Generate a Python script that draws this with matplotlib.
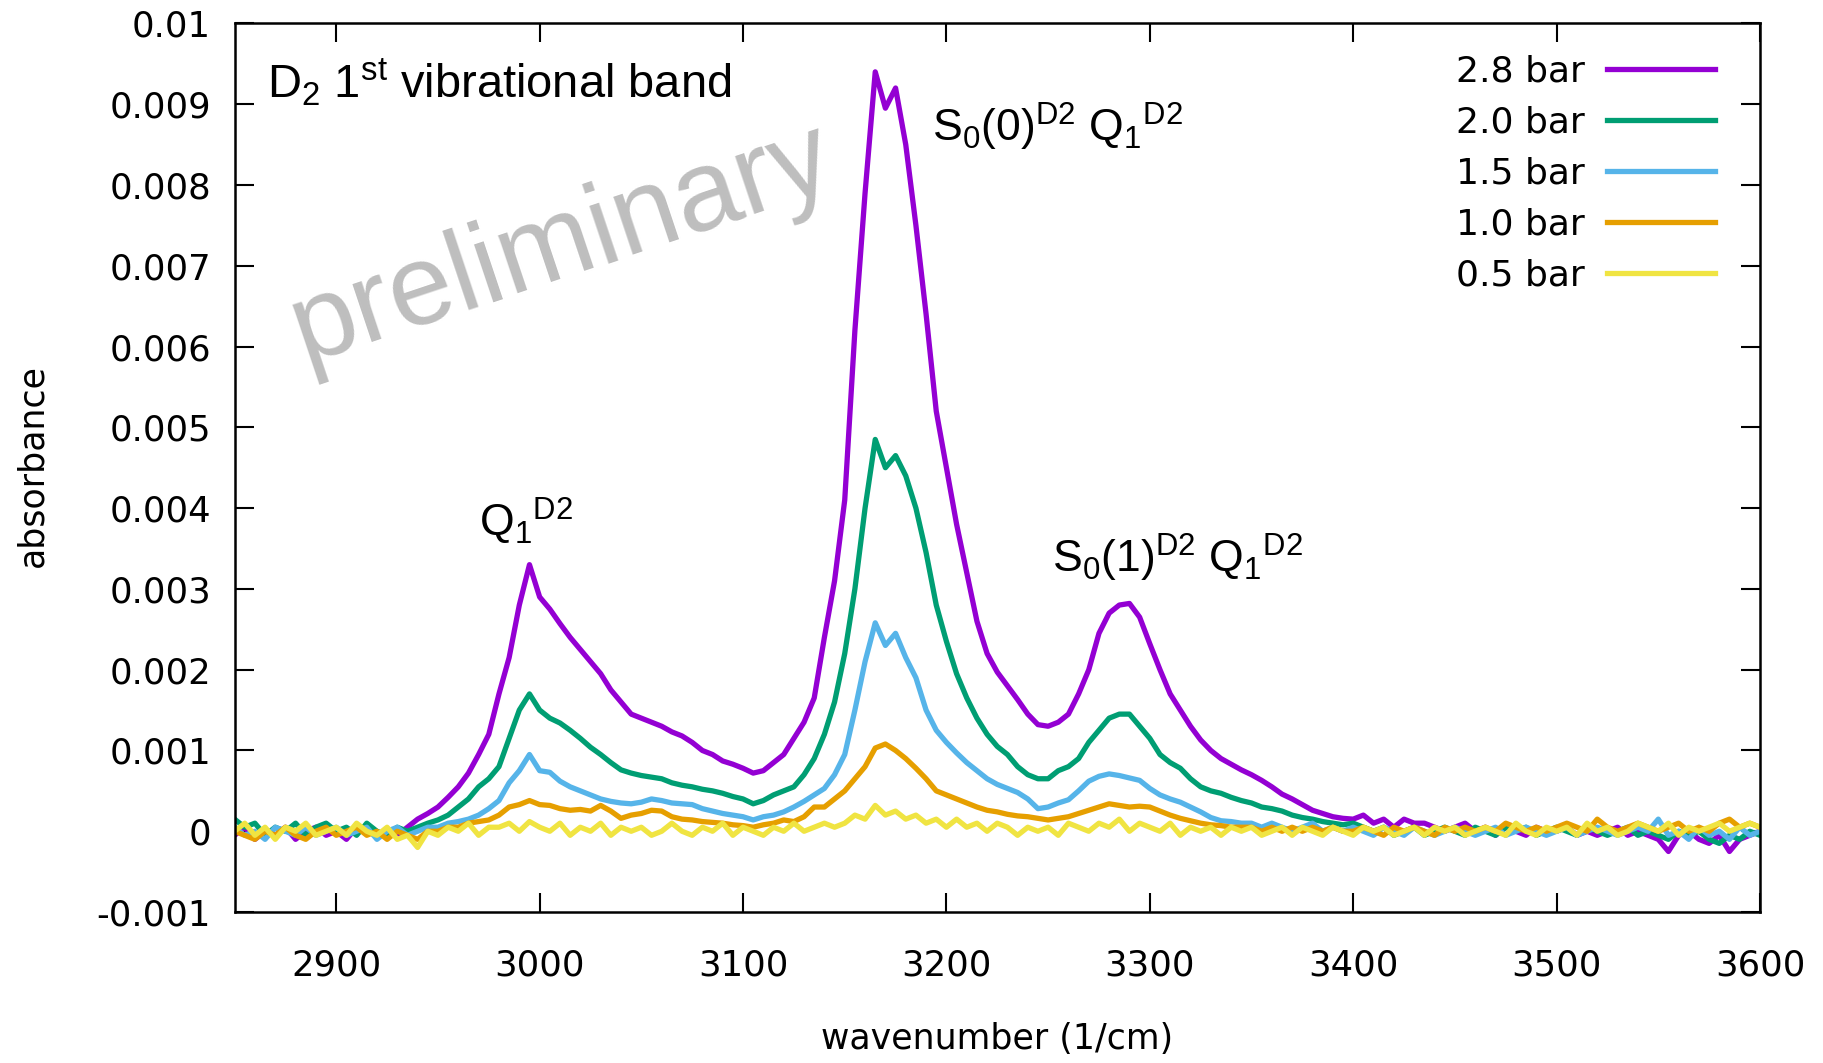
import numpy as np
import matplotlib
matplotlib.use("Agg")
import matplotlib.pyplot as plt

# Wavenumber grid (1/cm), 5 cm^-1 spacing
wavenumber = np.arange(2850, 3601, 5)

# Absorbance in units of 1e-4, one list per D2 pressure
abs_2p8bar = [
    -0.5, 0.5, -1, 0, -0.5, 0.5, -1, 0, 0.5, -0.5,        # 2850
    0, -1, 0.5, 0, -0.5, 0, -0.5, 0.5, 1.5, 2.2,          # 2900
    3, 4.2, 5.5, 7.2, 9.5, 12, 17, 21.5, 28, 33,          # 2950
    29, 27.5, 25.7, 24, 22.5, 21, 19.5, 17.5, 16, 14.5,   # 3000
    14, 13.5, 13, 12.3, 11.8, 11, 10, 9.5, 8.7, 8.3,      # 3050
    7.8, 7.2, 7.5, 8.5, 9.5, 11.5, 13.5, 16.5, 24, 31,    # 3100
    41, 62, 79, 94, 89.5, 92, 85, 75, 64, 52,             # 3150
    45, 38, 32, 26, 22, 19.7, 18, 16.3, 14.5, 13.2,       # 3200
    13, 13.5, 14.5, 17, 20, 24.5, 27, 28, 28.2, 26.5,     # 3250
    23.2, 20, 17, 15, 13, 11.3, 10, 9, 8.3, 7.6,          # 3300
    7, 6.3, 5.5, 4.6, 4, 3.3, 2.6, 2.2, 1.8, 1.6,         # 3350
    1.5, 2, 1, 1.5, 0.5, 1.5, 1, 1, 0.5, 0,               # 3400
    0.5, 1, 0, 0.5, -0.5, 0.5, 0, -0.5, 0.5, 0,           # 3450
    0, 0.5, -0.5, 0, -0.5, 0, 0.5, -0.5, 0, -0.5,         # 3500
    -1, -2.5, -0.5, 0, -1, -1.5, -0.5, -2.5, -1, -0.5,    # 3550
    0,                                                    # 3600
]
abs_2p0bar = [
    1.5, 0.5, 1, -0.5, 0.5, 0, 1, -0.5, 0.5, 1,
    0, 0.5, -0.5, 1, 0, -0.5, 0.5, 0, 0.5, 1,
    1.4, 2, 3, 4, 5.5, 6.5, 8, 11.5, 15, 17,
    15, 14, 13.4, 12.5, 11.5, 10.4, 9.5, 8.5, 7.6, 7.2,
    6.9, 6.7, 6.5, 6, 5.7, 5.5, 5.2, 5, 4.7, 4.3,
    4, 3.4, 3.8, 4.5, 5, 5.5, 7, 9, 12, 16,
    22, 30, 40, 48.5, 45, 46.5, 44, 40, 34.5, 28,
    23.5, 19.5, 16.5, 14, 12, 10.5, 9.5, 8, 7, 6.5,
    6.5, 7.5, 8, 9, 11, 12.5, 14, 14.5, 14.5, 13,
    11.5, 9.5, 8.5, 7.8, 6.5, 5.5, 5, 4.7, 4.2, 3.8,
    3.5, 3, 2.8, 2.5, 2, 1.7, 1.5, 1.2, 1, 0.8,
    1, 0.5, 0, 0.5, -0.5, 0, 0.5, -0.5, 0, 0.5,
    0, -0.5, 0.5, 0, -0.5, 0.5, 0, 0.5, -0.5, 0,
    0.5, 0, -0.5, 0.5, 0, -0.5, 0, 0.5, -0.5, 0,
    -0.5, -1, 0, -0.5, 0, -1, -1.5, -0.5, -1, 0,
    -0.5,
]
abs_1p5bar = [
    0.5, -0.5, 0, -1, 0.5, 0, -0.5, 0.5, -0.5, 0,
    0.5, -0.5, 0, 0.5, -1, 0, 0.5, -0.5, 0, 0.5,
    0.5, 1, 1.2, 1.5, 2, 2.8, 3.8, 6, 7.5, 9.5,
    7.5, 7.3, 6.2, 5.5, 5, 4.5, 4, 3.7, 3.5, 3.4,
    3.6, 4, 3.8, 3.5, 3.4, 3.3, 2.8, 2.5, 2.2, 2,
    1.8, 1.4, 1.8, 2, 2.4, 3, 3.7, 4.5, 5.3, 7,
    9.5, 15, 21, 25.8, 23, 24.5, 21.5, 19, 15, 12.5,
    11, 9.7, 8.5, 7.5, 6.5, 5.8, 5.3, 4.8, 4, 2.8,
    3, 3.5, 3.9, 5, 6.2, 6.8, 7.1, 6.9, 6.6, 6.3,
    5.3, 4.5, 4, 3.6, 3, 2.4, 1.7, 1.3, 1.2, 1,
    1, 0.5, 1, 0.5, 0, 0.5, 1, 0, 0.5, 0,
    0.5, 0, -0.5, 0.5, 0, -0.5, 0.5, 0, -0.5, 0,
    0.5, 0, -0.5, 0, 0.5, -0.5, 0, 0.5, 0, -0.5,
    0, 0.5, -0.5, 0, 0.5, 0, -0.5, 0, 0.5, 0,
    1.5, -0.5, 0, -1, 0.5, -0.5, 0, -1, 0.5, -0.5,
    0,
]
abs_1p0bar = [
    0, -0.5, -1, 0, -0.5, 0.5, -0.5, -1, 0, 0.5,
    -0.5, 0, 0.5, -0.5, 0, -1, 0, -0.5, -1, 0,
    0, 0.5, 0.5, 1, 1.2, 1.4, 2, 3, 3.3, 3.8,
    3.3, 3.2, 2.8, 2.6, 2.7, 2.5, 3.2, 2.5, 1.6, 2,
    2.2, 2.6, 2.5, 1.8, 1.5, 1.4, 1.2, 1.1, 1, 0.8,
    0.7, 0.5, 0.8, 1, 1.4, 1.2, 1.8, 3, 3, 4,
    5, 6.5, 8, 10.3, 10.8, 10, 9, 7.8, 6.5, 5,
    4.5, 4, 3.5, 3, 2.6, 2.4, 2.1, 1.9, 1.8, 1.6,
    1.4, 1.6, 1.8, 2.2, 2.6, 3, 3.4, 3.2, 3, 3.1,
    3, 2.5, 2, 1.6, 1.3, 1, 0.8, 0.7, 0.5, 0.5,
    0.5, 0, 0.5, 0, 0.5, 0, 0.5, 0, 0.5, 0,
    0, 0.5, 0, -0.5, 0.5, 0, 0.5, 0, -0.5, 0.5,
    0, 0.5, 0, 0.5, 0, 1, 0.5, 0, 0.5, 0,
    0.5, 1, 0.5, 0, 1.5, 0.5, 0, 0.5, 1, 0.5,
    0, 0.5, 1, 0, 0.5, 0, 1, 1.5, 0.5, 1,
    0.5,
]
abs_0p5bar = [
    0, 1, -0.5, 0.5, -1, 0.5, 0, 1, -0.5, 0,
    0.5, -0.5, 1, 0, -0.5, 0.5, -1, -0.5, -2, 0,
    -0.5, 0.5, 0, 1, -0.5, 0.5, 0.5, 1, 0, 1.2,
    0.5, 0, 1, -0.5, 0.5, 0, 1, -0.5, 0.5, 0,
    0.5, -0.5, 0, 1, 0, -0.5, 0.5, 0, 1, -0.5,
    0.5, 0, -0.5, 0.5, 0, 1, 0, 0.5, 1, 0.5,
    1, 2, 1.5, 3.2, 2, 2.5, 1.5, 2, 1, 1.5,
    0.5, 1.5, 0.5, 1, 0, 1, 0.5, -0.5, 0.5, 0,
    0.5, -0.5, 1, 0.5, 0, 1, 0.5, 1.5, 0, 1,
    0.5, 0, 1, -0.5, 0.5, 0, 0.5, -0.5, 0.5, 0,
    0.5, -0.5, 0, 0.5, -0.5, 0.5, 0, -0.5, 0.5, 0,
    -0.5, 0.5, 0, 0.5, -0.5, 0, 0.5, -0.5, 0.5, 0,
    0.5, -0.5, 0, 0.5, 0, -0.5, 1, 0, -0.5, 0.5,
    0, 0.5, -0.5, 1, 0, 0.5, -0.5, 0, 1, 0.5,
    0, 1, -0.5, 0.5, 0, 0.5, 1, 0, 0.5, 1,
    0.5,
]

series_labels = ["2.8 bar", "2.0 bar", "1.5 bar", "1.0 bar", "0.5 bar"]
series_values = [abs_2p8bar, abs_2p0bar, abs_1p5bar, abs_1p0bar, abs_0p5bar]
series_colors = ["#9400d3", "#009e73", "#56b4e9", "#e69f00", "#f0e442"]

x_ticks = [2900, 3000, 3100, 3200, 3300, 3400, 3500, 3600]
x_ticklabels = ["2900", "3000", "3100", "3200", "3300", "3400", "3500", "3600"]
y_ticks = [-0.001, 0, 0.001, 0.002, 0.003, 0.004, 0.005, 0.006, 0.007, 0.008, 0.009, 0.01]
y_ticklabels = ["-0.001", "0", "0.001", "0.002", "0.003", "0.004", "0.005",
                "0.006", "0.007", "0.008", "0.009", "0.01"]

plt.rcParams["font.family"] = ["DejaVu Sans"]
plt.rcParams["mathtext.fontset"] = "custom"
plt.rcParams["mathtext.rm"] = "Liberation Sans"
plt.rcParams["mathtext.it"] = "Liberation Sans:italic"
plt.rcParams["mathtext.bf"] = "Liberation Sans:bold"

fig = plt.figure(figsize=(18.24, 10.63), dpi=100)
ax = fig.add_axes([0.1286, 0.142, 0.8363, 0.836])

for vals, lab, col in zip(series_values, series_labels, series_colors):
    ax.plot(wavenumber, np.asarray(vals) * 1e-4, color=col, lw=3.8, label=lab,
            solid_joinstyle="round")

ax.set_xlim(2850, 3600)
ax.set_ylim(-0.001, 0.01)
ax.set_xticks(x_ticks)
ax.set_xticklabels(x_ticklabels)
ax.set_yticks(y_ticks)
ax.set_yticklabels(y_ticklabels)
ax.tick_params(axis="both", direction="in", length=14, width=1.5,
               top=True, right=True, labelsize=25.5, colors="black")
ax.tick_params(axis="x", pad=26)
ax.tick_params(axis="y", pad=17)
for sp in ax.spines.values():
    sp.set_linewidth(1.8)

fig.text(0.5467, 0.0228, "wavenumber (1/cm)", ha="center", va="center", fontsize=25)
fig.text(0.0179, 0.562, "absorbance", ha="center", va="center", rotation=90, fontsize=25)

leg = ax.legend(loc="upper right", bbox_to_anchor=(0.9708, 0.965), frameon=False,
                markerfirst=False, fontsize=26, handlelength=3.0, handletextpad=0.62,
                labelspacing=0.47, borderaxespad=0, borderpad=0)
for line in leg.get_lines():
    line.set_linewidth(3.8)

# Band annotations
ann = dict(fontsize=32, family="Liberation Sans", ha="left", va="baseline")
ax.text(2866, 0.00908, r"D$_\mathregular{2}$ 1$^\mathregular{st}$ vibrational band",
        fontsize=33.8, family="Liberation Sans", ha="left", va="baseline")
ax.text(3193, 0.00853, r"S$_\mathregular{0}$(0)$^\mathregular{D2}$ Q$_\mathregular{1}$$^\mathregular{D2}$", **ann)
ax.text(2970, 0.00365, r"Q$_\mathregular{1}$$^\mathregular{D2}$", **ann)
ax.text(3252, 0.0032, r"S$_\mathregular{0}$(1)$^\mathregular{D2}$ Q$_\mathregular{1}$$^\mathregular{D2}$", **ann)

# Watermark
ax.text(3011, 0.00726, "preliminary", fontsize=83, family="Liberation Sans",
        color="#bebebe", rotation=18.5, ha="center", va="center",
        rotation_mode="anchor", zorder=0)

fig.savefig("out.png", dpi=100)
